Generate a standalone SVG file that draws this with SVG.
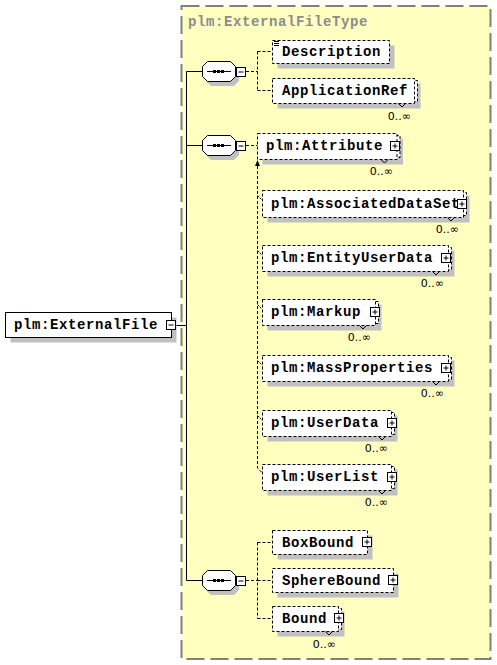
<svg xmlns="http://www.w3.org/2000/svg" width="497" height="665" viewBox="0 0 497 665">
<defs>
<style>
.bg{fill:#FFFFC0;stroke:#808080;stroke-width:2;stroke-dasharray:18,6}
.ttl{font-family:"Liberation Mono",monospace;font-weight:bold;font-size:14px;letter-spacing:0.6px;fill:#8C8C8C}
.t{font-family:"Liberation Mono",monospace;font-weight:bold;font-size:14px;letter-spacing:0.6px;fill:#000}
.oc{font-family:"DejaVu Sans",sans-serif;font-size:11px;fill:#000;text-anchor:end}
.sh{fill:#C0C0C0}
.el{fill:#fff;stroke:#000;stroke-dasharray:3,2}
.req{fill:#fff;stroke:#000}
.pm{fill:#fff;stroke:#000}
.ln{fill:none;stroke:#000}
.dl{fill:none;stroke:#000;stroke-dasharray:3,2}
.tk{fill:none;stroke:#000;stroke-dasharray:2,1}
</style>
<marker id="ah" viewBox="0 0 6 6" refX="5" refY="3" markerWidth="5" markerHeight="5" orient="auto"><path d="M0,0 L6,3 L0,6 z" fill="#000"/></marker>
</defs>
<g id="type-box">
<rect class="bg" x="181.5" y="6" width="309" height="653"/>
<text class="ttl" x="188" y="26">plm:ExternalFileType</text>
</g>
<g id="connectors">
<path class="ln" d="M175.5,325.5 H186.5 M186.5,71.5 V580.5 M186.5,71.5 H202 M186.5,145.5 H202 M186.5,580.5 H202"/>
<path class="dl" d="M246,71.5 H257.5 M257.5,51.5 V90.5 M257.5,51.5 H272.5 M257.5,90.5 H272.5"/>
<path class="dl" d="M246,145.5 H257.5"/>
<path class="dl" d="M246,580.5 H257.5 M257.5,542.5 V618.5 M257.5,542.5 H272.5 M257.5,580.5 H272.5 M257.5,618.5 H272.5"/>
<path class="dl" d="M257.5,166 V468 L262.5,473"/>
<path d="M257.5,160 L255,166 L260,166 z" fill="#000"/>
<path class="ln" d="M259.5,158.5 L264,154" marker-end="url(#ah)"/>
<path class="tk" d="M257.5,195.5 L262.5,200.5 M257.5,250.5 L262.5,255.5 M257.5,304.5 L262.5,309.5 M257.5,360.5 L262.5,365.5 M257.5,415.5 L262.5,420.5"/>
</g>
<g id="ExternalFile">
<rect class="sh" x="10.5" y="317.5" width="166" height="25"/>
<rect class="req" x="5.5" y="312.5" width="166" height="25"/>
<text class="t" x="14" y="329">plm:ExternalFile</text>
<rect class="pm" x="166.5" y="320.5" width="9" height="9"/>
<path class="ln" d="M168.5,325 H173.5"/>
</g>
<g id="sequence1">
<path class="sh" d="M211,66 H234 L239,71 V81 L234,86 H211 L206,81 V71 z"/>
<path class="req" d="M207.5,61.5 H230.5 L235.5,66.5 V76.5 L230.5,81.5 H207.5 L202.5,76.5 V66.5 z"/>
<path class="ln" d="M207,71.5 H231"/>
<rect x="213" y="70" width="3" height="3"/><rect x="217" y="70" width="3" height="3"/><rect x="221" y="70" width="3" height="3"/>
<rect class="pm" x="236.5" y="67.5" width="9" height="9"/>
<path class="ln" d="M238.5,72 H243.5"/>
</g>
<g id="sequence2">
<path class="sh" d="M211,140 H234 L239,145 V155 L234,160 H211 L206,155 V145 z"/>
<path class="req" d="M207.5,135.5 H230.5 L235.5,140.5 V150.5 L230.5,155.5 H207.5 L202.5,150.5 V140.5 z"/>
<path class="ln" d="M207,145.5 H231"/>
<rect x="213" y="144" width="3" height="3"/><rect x="217" y="144" width="3" height="3"/><rect x="221" y="144" width="3" height="3"/>
<rect class="pm" x="236.5" y="141.5" width="9" height="9"/>
<path class="ln" d="M238.5,146 H243.5"/>
</g>
<g id="sequence3">
<path class="sh" d="M211,575 H234 L239,580 V590 L234,595 H211 L206,590 V580 z"/>
<path class="req" d="M207.5,570.5 H230.5 L235.5,575.5 V585.5 L230.5,590.5 H207.5 L202.5,585.5 V575.5 z"/>
<path class="ln" d="M207,580.5 H231"/>
<rect x="213" y="579" width="3" height="3"/><rect x="217" y="579" width="3" height="3"/><rect x="221" y="579" width="3" height="3"/>
<rect class="pm" x="236.5" y="576.5" width="9" height="9"/>
<path class="ln" d="M238.5,581 H243.5"/>
</g>
<g id="Description">
<rect class="sh" x="277.5" y="45.5" width="117" height="23"/>
<rect class="el" x="272.5" y="40.5" width="117" height="23"/>
<path class="ln" d="M274,41.5 H279 M274,43.5 H279 M274,45.5 H279"/>
<text class="t" x="282" y="56">Description</text>
</g>
<g id="ApplicationRef">
<rect class="sh" x="277.5" y="83.5" width="143" height="25"/>
<rect class="el" x="275.5" y="80.5" width="142" height="21"/>
<rect class="el" x="272.5" y="78.5" width="142" height="25"/>
<path class="ln" d="M398.5,103.5 L402,107 L405.5,103.5"/>
<text class="t" x="282" y="95">ApplicationRef</text>
<text class="oc" x="411" y="120">0..∞</text>
</g>
<g id="Attribute">
<rect class="sh" x="262.5" y="138.5" width="140.5" height="26"/>
<rect class="el" x="260.5" y="135.5" width="139.5" height="22"/>
<rect class="el" x="257.5" y="133.5" width="139.5" height="26"/>
<path class="ln" d="M381,159.5 L384.5,163 L388,159.5"/>
<text class="t" x="266" y="150">plm:Attribute</text>
<rect class="pm" x="390.5" y="141.5" width="9" height="9"/>
<path class="ln" d="M392.5,146 H397.5 M395,143.5 V148.5"/>
<text class="oc" x="393" y="175">0..∞</text>
</g>
<g id="AssociatedDataSet">
<rect class="sh" x="267.5" y="195.5" width="202" height="27"/>
<rect class="el" x="265.5" y="192.5" width="201" height="23"/>
<rect class="el" x="262.5" y="190.5" width="201" height="27"/>
<path class="ln" d="M447.5,217.5 L451,221 L454.5,217.5"/>
<text class="t" x="271" y="208">plm:AssociatedDataSet</text>
<rect class="pm" x="457.5" y="199.5" width="9" height="9"/>
<path class="ln" d="M459.5,204 H464.5 M462,201.5 V206.5"/>
<text class="oc" x="459" y="233">0..∞</text>
</g>
<g id="EntityUserData">
<rect class="sh" x="267.5" y="250.5" width="187" height="26"/>
<rect class="el" x="265.5" y="247.5" width="186" height="22"/>
<rect class="el" x="262.5" y="245.5" width="186" height="26"/>
<path class="ln" d="M432.5,271.5 L436,275 L439.5,271.5"/>
<text class="t" x="271" y="262">plm:EntityUserData</text>
<rect class="pm" x="441.5" y="253.5" width="9" height="9"/>
<path class="ln" d="M443.5,258 H448.5 M446,255.5 V260.5"/>
<text class="oc" x="444" y="287">0..∞</text>
</g>
<g id="Markup">
<rect class="sh" x="267.5" y="304.5" width="114" height="26"/>
<rect class="el" x="265.5" y="301.5" width="113" height="22"/>
<rect class="el" x="262.5" y="299.5" width="113" height="26"/>
<path class="ln" d="M359.5,325.5 L363,329 L366.5,325.5"/>
<text class="t" x="271" y="316">plm:Markup</text>
<rect class="pm" x="370.5" y="307.5" width="9" height="9"/>
<path class="ln" d="M372.5,312 H377.5 M375,309.5 V314.5"/>
<text class="oc" x="371" y="341">0..∞</text>
</g>
<g id="MassProperties">
<rect class="sh" x="267.5" y="360.5" width="187" height="26"/>
<rect class="el" x="265.5" y="357.5" width="186" height="22"/>
<rect class="el" x="262.5" y="355.5" width="186" height="26"/>
<path class="ln" d="M432.5,381.5 L436,385 L439.5,381.5"/>
<text class="t" x="271" y="372">plm:MassProperties</text>
<rect class="pm" x="441.5" y="363.5" width="9" height="9"/>
<path class="ln" d="M443.5,368 H448.5 M446,365.5 V370.5"/>
<text class="oc" x="444" y="397">0..∞</text>
</g>
<g id="UserData">
<rect class="sh" x="267.5" y="415.5" width="130" height="26"/>
<rect class="el" x="265.5" y="412.5" width="129" height="22"/>
<rect class="el" x="262.5" y="410.5" width="129" height="26"/>
<path class="ln" d="M378.5,436.5 L382,440 L385.5,436.5"/>
<text class="t" x="271" y="427">plm:UserData</text>
<rect class="pm" x="387.5" y="418.5" width="9" height="9"/>
<path class="ln" d="M389.5,423 H394.5 M392,420.5 V425.5"/>
<text class="oc" x="388" y="452">0..∞</text>
</g>
<g id="UserList">
<rect class="sh" x="267.5" y="469.5" width="130" height="26"/>
<rect class="el" x="265.5" y="466.5" width="129" height="22"/>
<rect class="el" x="262.5" y="464.5" width="129" height="26"/>
<path class="ln" d="M378.5,490.5 L382,494 L385.5,490.5"/>
<text class="t" x="271" y="481">plm:UserList</text>
<rect class="pm" x="387.5" y="472.5" width="9" height="9"/>
<path class="ln" d="M389.5,477 H394.5 M392,474.5 V479.5"/>
<text class="oc" x="388" y="506">0..∞</text>
</g>
<g id="BoxBound">
<rect class="sh" x="277.5" y="535.5" width="95" height="24"/>
<rect class="el" x="272.5" y="530.5" width="95" height="24"/>
<text class="t" x="282" y="547">BoxBound</text>
<rect class="pm" x="362.5" y="537.5" width="9" height="9"/>
<path class="ln" d="M364.5,542 H369.5 M367,539.5 V544.5"/>
</g>
<g id="SphereBound">
<rect class="sh" x="277.5" y="573.5" width="121" height="24"/>
<rect class="el" x="272.5" y="568.5" width="121" height="24"/>
<text class="t" x="282" y="585">SphereBound</text>
<rect class="pm" x="388.5" y="575.5" width="9" height="9"/>
<path class="ln" d="M390.5,580 H395.5 M393,577.5 V582.5"/>
</g>
<g id="Bound">
<rect class="sh" x="277.5" y="611.5" width="67" height="25"/>
<rect class="el" x="275.5" y="608.5" width="66" height="21"/>
<rect class="el" x="272.5" y="606.5" width="66" height="25"/>
<path class="ln" d="M325.5,631.5 L329,635 L332.5,631.5"/>
<text class="t" x="282" y="623">Bound</text>
<rect class="pm" x="334.5" y="613.5" width="9" height="9"/>
<path class="ln" d="M336.5,618 H341.5 M339,615.5 V620.5"/>
<text class="oc" x="336" y="648">0..∞</text>
</g>
</svg>
